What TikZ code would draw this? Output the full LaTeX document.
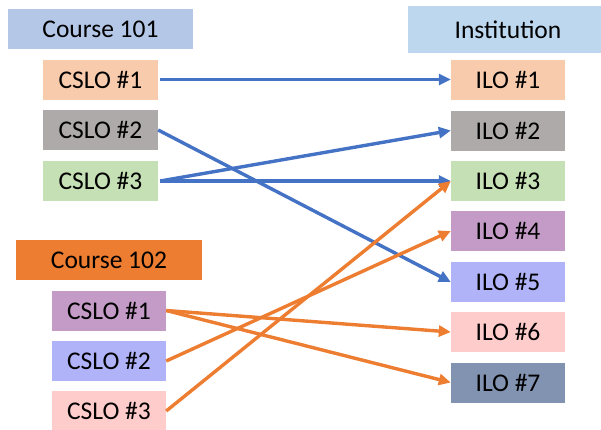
\documentclass[tikz,border=0pt]{standalone}
\usepackage{fontspec}
\setmainfont{Carlito}
\usetikzlibrary{arrows.meta}
\definecolor{hdrA}{HTML}{B4C7E7}
\definecolor{hdrB}{HTML}{ED7D31}
\definecolor{hdrI}{HTML}{BDD7EE}
\definecolor{cA}{HTML}{F8CBAD}
\definecolor{cB}{HTML}{AEAAAA}
\definecolor{cC}{HTML}{C5E0B4}
\definecolor{cD}{HTML}{C39BC6}
\definecolor{cE}{HTML}{B1B3F9}
\definecolor{cF}{HTML}{FFCCCC}
\definecolor{cG}{HTML}{8193B0}
\definecolor{lnblue}{HTML}{4472C4}
\definecolor{lnorange}{HTML}{ED7D31}
\tikzset{
  lbox/.style={inner sep=0pt, minimum height=40pt, font=\fontsize{25.5}{29}\selectfont, text=black},
  cslo/.style={lbox, minimum width=115pt},
  ilo/.style={lbox, minimum width=114pt},
  hdr/.style={lbox},
  link/.style={line width=3.4pt, -{Triangle[length=12pt,width=11pt]}},
  blue link/.style={link, draw=lnblue},
  orange link/.style={link, draw=lnorange},
}
\begin{document}
\begin{tikzpicture}[x=1pt,y=-1pt]
\useasboundingbox (0,0) rectangle (601,429);
% headers
\node[hdr, fill=hdrA, minimum width=185pt] (h1) at (100.5,29) {Course 101};
\node[hdr, fill=hdrB, minimum width=186pt] (h2) at (109,260) {Course 102};
\node[hdr, fill=hdrI, minimum width=200pt, minimum height=47pt] (hi) at (508,29.5) {Institution};
% course 101
\node[cslo, fill=cA] (a1) at (100.5,79.5) {CSLO \#1};
\node[cslo, fill=cB] (a2) at (100.5,130) {CSLO \#2};
\node[cslo, fill=cC] (a3) at (100.5,181) {CSLO \#3};
% course 102
\node[cslo, fill=cD, minimum width=114pt] (b1) at (109,310.5) {CSLO \#1};
\node[cslo, fill=cE, minimum width=114pt] (b2) at (109,361) {CSLO \#2};
\node[cslo, fill=cF, minimum width=114pt] (b3) at (109,411) {CSLO \#3};
% institution
\node[ilo, fill=cA] (i1) at (508,79.5) {ILO \#1};
\node[ilo, fill=cB] (i2) at (508,130.5) {ILO \#2};
\node[ilo, fill=cC] (i3) at (508,181) {ILO \#3};
\node[ilo, fill=cD] (i4) at (508,231) {ILO \#4};
\node[ilo, fill=cE] (i5) at (508,282) {ILO \#5};
\node[ilo, fill=cF] (i6) at (508,332) {ILO \#6};
\node[ilo, fill=cG] (i7) at (508,382.5) {ILO \#7};
% blue links
\draw[blue link] ([xshift=2pt]a1.east) -- (i1.west);
\draw[blue link] (a2.east) -- (i5.west);
\draw[blue link] ([xshift=2pt]a3.east) -- (i2.west);
\draw[blue link] ([xshift=2pt]a3.east) -- (i3.west);
% orange links
\draw[orange link] (b1.east) -- (i6.west);
\draw[orange link] (b1.east) -- (i7.west);
\draw[orange link] (b2.east) -- (i4.west);
\draw[orange link] (b3.east) -- (i3.west);
\end{tikzpicture}
\end{document}
